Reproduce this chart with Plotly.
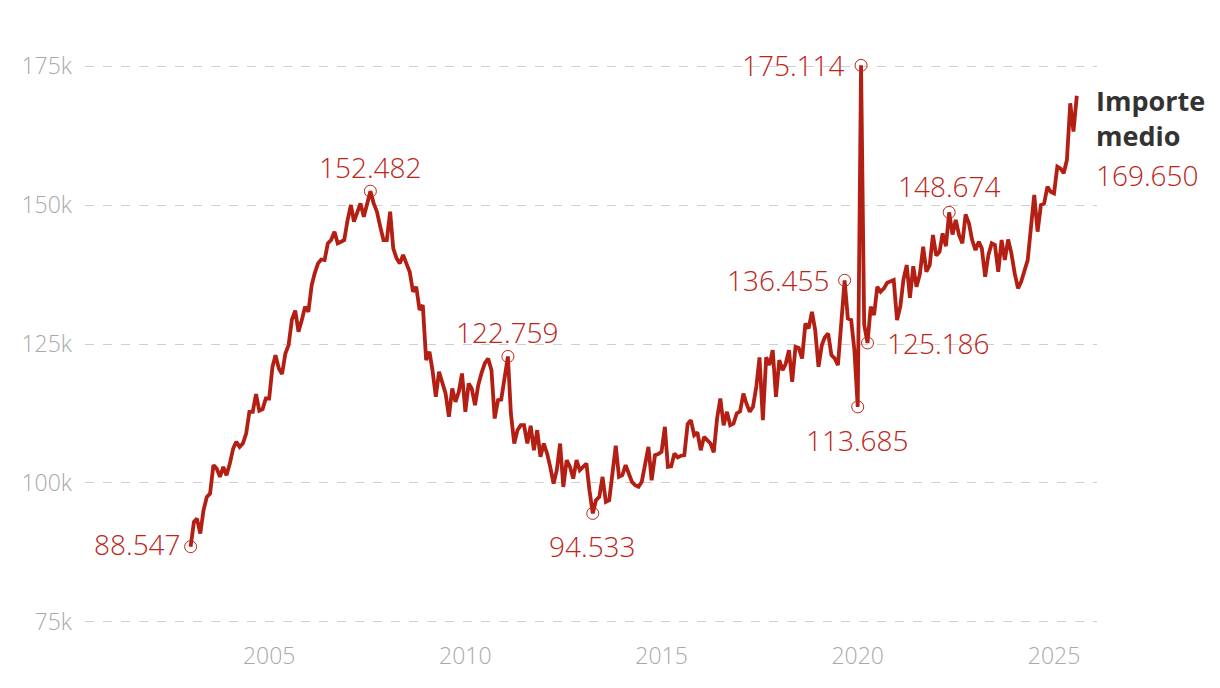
import pandas as pd
import plotly.graph_objects as go

# Monthly average amount (thousands of euros), Jan 2003 - Aug 2025
vals_2003_2006 = [88.547, 93.0, 93.6, 90.9, 95.1, 97.5, 98.1, 103.2, 102.6, 101.1, 102.9, 101.4,
                  103.5, 106.2, 107.4, 106.5, 107.1, 108.9, 112.8, 112.8, 116.0, 113.0, 113.3, 115.2,
                  115.2, 120.9, 123.0, 120.6, 119.6, 123.3, 124.8, 129.4, 131.0, 127.2, 129.3, 131.7,
                  130.8, 135.6, 137.7, 139.5, 140.2, 140.1, 143.1, 143.7, 145.2, 143.1, 143.4, 143.7]
vals_2007_2010 = [147.3, 150.0, 147.0, 148.5, 150.3, 147.9, 150.0, 152.482, 150.3, 148.8, 146.1, 143.7,
                  143.7, 148.8, 142.2, 140.4, 139.5, 141.0, 139.5, 138.0, 134.4, 135.3, 131.1, 132.0,
                  122.1, 123.6, 120.3, 115.5, 120.0, 117.9, 116.1, 111.9, 117.0, 114.6, 116.4, 119.7,
                  112.8, 117.9, 117.0, 114.0, 117.6, 119.8, 121.5, 122.4, 120.3, 111.6, 114.9, 115.0]
vals_2011_2014 = [118.5, 122.759, 112.5, 107.1, 109.5, 110.4, 110.4, 107.1, 110.3, 105.9, 109.5, 104.7,
                  107.1, 105.3, 102.9, 99.9, 102.3, 107.1, 99.3, 104.1, 102.9, 100.8, 104.1, 102.3,
                  102.9, 103.5, 98.7, 94.533, 96.9, 97.5, 101.1, 96.6, 96.9, 101.5, 106.7, 101.1,
                  101.4, 103.2, 101.7, 100.2, 99.6, 99.3, 100.2, 103.5, 106.5, 100.5, 105.0, 105.2]
vals_2015_2018 = [105.6, 110.1, 102.9, 103.0, 105.3, 104.6, 104.9, 105.0, 110.6, 111.3, 108.6, 109.1,
                  105.9, 108.3, 107.7, 107.1, 105.5, 111.6, 115.2, 110.4, 112.8, 110.4, 110.7, 112.5,
                  112.9, 116.1, 114.3, 112.8, 113.7, 117.3, 122.6, 111.3, 122.6, 121.2, 123.9, 115.5,
                  122.1, 120.3, 121.4, 123.9, 118.2, 124.5, 124.3, 122.4, 128.7, 127.8, 130.8, 127.5]
vals_2019_2022 = [120.9, 124.8, 126.2, 126.9, 123.0, 122.4, 121.2, 128.1, 136.455, 129.6, 129.3, 123.9,
                  113.685, 175.114, 128.5, 125.186, 131.7, 130.2, 135.3, 134.4, 135.0, 136.0, 136.2, 136.5,
                  129.3, 131.8, 136.5, 139.2, 133.3, 139.0, 135.3, 137.5, 142.5, 138.0, 139.2, 144.6,
                  140.9, 141.6, 144.9, 142.6, 148.674, 144.7, 147.3, 144.6, 143.1, 148.3, 146.7, 143.7]
vals_2023_2025 = [141.9, 143.4, 142.2, 137.1, 141.0, 143.1, 142.8, 138.0, 143.7, 140.1, 143.8, 141.3,
                  137.7, 135.0, 136.2, 138.0, 140.1, 146.1, 151.8, 145.2, 150.0, 150.3, 153.3, 152.4,
                  152.1, 156.9, 156.6, 155.7, 158.1, 168.3, 163.2, 169.650]

values = (vals_2003_2006 + vals_2007_2010 + vals_2011_2014 +
          vals_2015_2018 + vals_2019_2022 + vals_2023_2025)
dates = pd.date_range("2003-01-01", periods=len(values), freq="MS")

highlight_values = [88.547, 152.482, 122.759, 94.533, 136.455, 175.114, 113.685, 125.186, 148.674]

y_ticks = [75, 100, 125, 150, 175]
y_ticktext = ["75k", "100k", "125k", "150k", "175k"]
x_tick_years = [2005, 2010, 2015, 2020, 2025]

series_name = "Importe medio"

RED_LINE = "#b41f14"
RED_TEXT = "#bd2519"
GREY = "#a9a9a9"
FONT = "Open Sans"

s = pd.Series(values, index=dates)

fig = go.Figure()
fig.add_trace(go.Scatter(x=s.index, y=s.values, mode="lines",
                         line=dict(color=RED_LINE, width=3.8), hoverinfo="skip",
                         showlegend=False))

hl_dates = [s.index[s.values.tolist().index(v)] for v in highlight_values]
fig.add_trace(go.Scatter(x=hl_dates, y=highlight_values, mode="markers",
                         marker=dict(symbol="circle-open", size=12, color=RED_TEXT,
                                     line=dict(width=1, color=RED_TEXT)),
                         showlegend=False, hoverinfo="skip"))

# label placement (style only)
placement = {
    88.547: dict(xanchor="right", yanchor="middle", xshift=-8, yshift=3),
    152.482: dict(xanchor="center", yanchor="middle", xshift=0, yshift=24),
    122.759: dict(xanchor="center", yanchor="middle", xshift=0, yshift=24),
    94.533: dict(xanchor="center", yanchor="middle", xshift=0, yshift=-33),
    136.455: dict(xanchor="right", yanchor="middle", xshift=-13, yshift=0),
    175.114: dict(xanchor="right", yanchor="middle", xshift=-14, yshift=0),
    113.685: dict(xanchor="center", yanchor="middle", xshift=0, yshift=-33),
    125.186: dict(xanchor="left", yanchor="middle", xshift=17, yshift=0),
    148.674: dict(xanchor="center", yanchor="middle", xshift=0, yshift=26),
}

ANN_SIZE = 28
annotations = []
for d, v in zip(hl_dates, highlight_values):
    p = placement[v]
    annotations.append(dict(x=d, y=v, xref="x", yref="y", text=f"{v:.3f}",
                            showarrow=False,
                            font=dict(family=FONT, size=ANN_SIZE, color=RED_TEXT, weight=300),
                            **p))

last_v = values[-1]
annotations.append(dict(x=1, xref="paper", y=last_v, yref="y",
                        text=f"<b>{series_name.replace(' ', '<br>')}</b>",
                        showarrow=False, xanchor="left", yanchor="middle", yshift=-22,
                        xshift=-3, align="left",
                        font=dict(family=FONT, size=27, color="#333333")))
annotations.append(dict(x=1, xref="paper", y=last_v, yref="y",
                        text=f"{last_v:.3f}", showarrow=False, xanchor="left",
                        yanchor="middle", yshift=-79, xshift=-3, align="left",
                        font=dict(family=FONT, size=ANN_SIZE, color=RED_TEXT, weight=300)))

fig.update_layout(
    width=1212, height=680,
    margin=dict(l=77, r=123, t=32, b=48),
    plot_bgcolor="white", paper_bgcolor="white",
    font=dict(family=FONT),
    annotations=annotations,
    showlegend=False,
)
fig.update_yaxes(range=[71.76, 179.68], tickvals=y_ticks, ticktext=y_ticktext,
                 showgrid=True, gridcolor="#cfcfcf", griddash="dash", gridwidth=1,
                 zeroline=False, showline=False, ticks="",
                 tickfont=dict(family=FONT, size=23, color=GREY, weight=300),
                 ticklabelstandoff=12)
fig.update_xaxes(type="date", range=["2000-04-23", "2026-02-05"],
                 tickvals=[f"{y}-01-01" for y in x_tick_years],
                 ticktext=[str(y) for y in x_tick_years],
                 showgrid=False, zeroline=False, showline=False, ticks="",
                 tickfont=dict(family=FONT, size=23, color=GREY, weight=300))

fig.write_html("out.html")
